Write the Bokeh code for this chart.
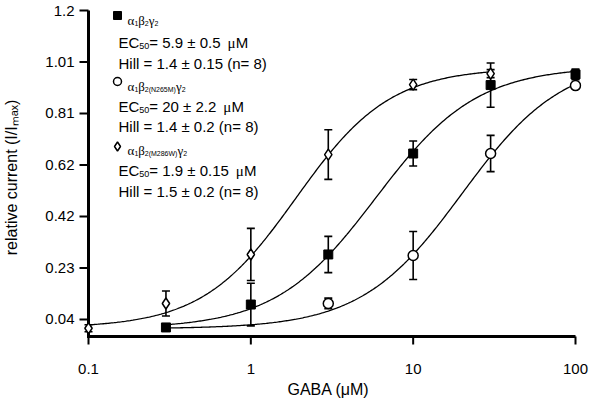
import math
import numpy as np
from bokeh.plotting import figure
from bokeh.models import Label, FixedTicker
from bokeh.embed import file_html
from bokeh.resources import INLINE

# ---------------- data ----------------
x_wt = [0.3, 1, 3, 10, 30, 100]
y_wt = [0.010, 0.096, 0.284, 0.663, 0.920, 0.960]
e_wt = [0.004, 0.080, 0.068, 0.047, 0.083, 0.020]

x_n265m = [3, 10, 30, 100]
y_n265m = [0.100, 0.280, 0.663, 0.918]
e_n265m = [0.020, 0.090, 0.068, 0.010]

x_m286w = [0.1, 0.3, 1, 3, 10, 30]
y_m286w = [0.007, 0.100, 0.284, 0.659, 0.922, 0.963]
e_m286w = [0.013, 0.047, 0.098, 0.093, 0.019, 0.015]

# Hill fit parameters (EC50 and Hill from the legend)
fit_ec50 = [5.9, 20.0, 1.9]
fit_hill = [1.4, 1.4, 1.5]
fit_top = [0.99, 1.02, 0.985]
fit_bottom = [0.005, 0.005, 0.008]
fit_from = [0.3, 0.3, 0.1]
fit_to = [100, 100, 30]

y_ticks = [0.04, 0.2333, 0.4267, 0.62, 0.8133, 1.0067, 1.2]
y_tick_labels = ["0.04", "0.23", "0.42", "0.62", "0.81", "1.01", "1.2"]
x_ticks = [0.1, 1, 10, 100]
x_tick_labels = ["0.1", "1", "10", "100"]

legend_names = [
    [("α", 0), ("1", 1), ("β", 0), ("2", 1), ("γ", 0), ("2", 1)],
    [("α", 0), ("1", 1), ("β", 0), ("2(N265M)", 1), ("γ", 0), ("2", 1)],
    [("α", 0), ("1", 1), ("β", 0), ("2(M286W)", 1), ("γ", 0), ("2", 1)],
]
legend_ec50 = ["5.9 ± 0.5", "20 ± 2.2", "1.9 ± 0.15"]
legend_hill = ["1.4 ± 0.15 (n= 8)", "1.4 ± 0.2 (n= 8)", "1.5 ± 0.2 (n= 8)"]

# ---------------- layout (picture pixels) ----------------
X0, X1 = 0.1, 100          # axis extent
Y0, Y1 = -0.024, 1.2
AX_L, AX_R, AX_T, AX_B = 89, 576, 11, 337      # where the axes lie
FR_L, FR_R, FR_T, FR_B = 76, 582, 6, 350       # plotting frame (larger than the axes)
OFF = 1                                        # canvas origin in the picture
W, H = 594, 402

DEC = (AX_R - AX_L) / (math.log10(X1) - math.log10(X0))
YPX = (AX_B - AX_T) / (Y1 - Y0)

def px2x(Xp):
    return 10 ** (math.log10(X0) + (Xp - AX_L) / DEC)

def px2y(Yp):
    return Y0 + (AX_B - Yp) / YPX

def sx(Xp):
    return Xp - FR_L

def sy(Yp):
    return FR_B - Yp

SANS_W = {'.': .278, ' ': .278, '=': .584, '±': .584, '(': .333, ')': .333, 'E': .667,
          'C': .722, 'H': .722, 'i': .222, 'l': .222, 'n': .556, 'M': .833, 'N': .722,
          'W': .944, 'A': .667, 'X': .667, 'r': .333, 'e': .556, 'a': .556, 't': .278,
          'v': .5, 'c': .5, 'u': .556, 'I': .278, '/': .278}
GREEK_W = {'α': .53, 'β': .5, 'γ': .45, 'μ': .55}

def sans_w(s, size):
    return sum(SANS_W.get(ch, .556) for ch in s) * size

SANS = "Liberation Sans"
SERIF = "Liberation Serif"

p = figure(width=W, height=H, x_axis_type="log",
           x_range=(px2x(FR_L), px2x(FR_R)), y_range=(px2y(FR_B), px2y(FR_T)),
           output_backend="svg", toolbar_location=None,
           min_border_left=FR_L - OFF, min_border_right=W - (FR_R - OFF),
           min_border_top=FR_T - OFF, min_border_bottom=H - (FR_B - OFF))
p.outline_line_color = None
p.xgrid.grid_line_color = None
p.ygrid.grid_line_color = None

p.axis.axis_line_color = None
p.axis.major_tick_line_color = None
p.axis.minor_tick_line_color = None
p.axis.major_tick_in = 0
p.axis.major_tick_out = 0
p.axis.major_label_text_font = SANS
p.axis.major_label_text_font_size = "15px"
p.axis.major_label_text_color = "black"
p.axis.axis_label_text_font = SANS
p.axis.axis_label_text_font_size = "16px"
p.axis.axis_label_text_font_style = "normal"
p.axis.axis_label_text_color = "black"

p.xaxis.ticker = FixedTicker(ticks=x_ticks)
p.xaxis.major_label_overrides = dict(zip(x_ticks, x_tick_labels))
p.xaxis.major_label_standoff = 14
p.xaxis.axis_label = "GABA (μM)"
p.xaxis.axis_label_standoff = 4

p.yaxis.ticker = FixedTicker(ticks=y_ticks)
p.yaxis.major_label_standoff = 1
p.yaxis.major_label_overrides = dict(zip(y_ticks, y_tick_labels))
p.yaxis.axis_label = "relative current (I/Iₘₐₓ)"
p.yaxis.axis_label_standoff = 22

# ---------------- axis rules and ticks (filled bars, 3 px / 2 px) ----------------
p.quad(left=[px2x(AX_L - 1.5), px2x(AX_L - 1.5)], right=[px2x(AX_L + 1.5), X1],
       bottom=[px2y(AX_B + 1.5), px2y(AX_B + 1.5)], top=[Y1, px2y(AX_B - 1.5)],
       fill_color="black", line_color=None)
tk = 1.0
p.quad(left=[px2x(AX_L - 9)] * len(y_ticks), right=[X0] * len(y_ticks),
       bottom=[t - tk / YPX for t in y_ticks], top=[t + tk / YPX for t in y_ticks],
       fill_color="black", line_color=None)
p.quad(left=[t * 10 ** (-tk / DEC) for t in x_ticks], right=[t * 10 ** (tk / DEC) for t in x_ticks],
       bottom=[px2y(AX_B + 8)] * len(x_ticks), top=[Y0] * len(x_ticks),
       fill_color="black", line_color=None)

# ---------------- fitted curves ----------------
for ec, n, top, bot, a, b in zip(fit_ec50, fit_hill, fit_top, fit_bottom, fit_from, fit_to):
    xs = np.logspace(math.log10(a), math.log10(b), 300)
    ys = bot + (top - bot) / (1.0 + (ec / xs) ** n)
    p.line(xs, ys, line_color="black", line_width=1.3)

# ---------------- error bars (stems + caps as glyphs) ----------------
for xv, yv, ev in ((x_wt, y_wt, e_wt), (x_n265m, y_n265m, e_n265m), (x_m286w, y_m286w, e_m286w)):
    lo = [y - e for y, e in zip(yv, ev)]
    hi = [y + e for y, e in zip(yv, ev)]
    p.segment(x0=xv, y0=lo, x1=xv, y1=hi, line_color="black", line_width=1.6)
    p.scatter(xv + xv, lo + hi, marker="dash", size=8, line_color="black", line_width=1.6)

# ---------------- markers ----------------
p.scatter(x_wt, y_wt, marker="square", size=9, fill_color="black", line_color="black")
p.scatter(x_n265m, y_n265m, marker="circle", size=10, fill_color="white", line_color="black", line_width=1.5)
p.scatter(x_m286w, y_m286w, marker="diamond", size=11, fill_color="white", line_color="black", line_width=1.5)

# ---------------- legend (drawn by hand) ----------------
leg_marker_X = 118
leg_marker_Y = [16, 82, 147]
leg_greek_base = [21, 87, 151]
leg_ec_base = [43, 107, 171]
leg_hill_base = [64, 127, 192]

p.scatter([px2x(leg_marker_X)], [px2y(leg_marker_Y[0])], marker="square", size=8,
          fill_color="black", line_color="black")
p.scatter([px2x(leg_marker_X)], [px2y(leg_marker_Y[1])], marker="circle", size=8,
          fill_color="white", line_color="black", line_width=1.5)
p.scatter([px2x(leg_marker_X)], [px2y(leg_marker_Y[2])], marker="diamond", size=9,
          fill_color="white", line_color="black", line_width=1.5)

def put(text, Xp, Yp, font, size):
    p.add_layout(Label(x=sx(Xp), y=sy(Yp), x_units="screen", y_units="screen", text=text,
                       text_font=font, text_font_size=f"{size}px", text_color="black",
                       text_baseline="alphabetic", text_align="left"))

GREEK_SIZE, SUB_SIZE = 13, 7
for row, base in zip(legend_names, leg_greek_base):
    Xp = 128
    for txt, is_sub in row:
        if is_sub:
            put(txt, Xp, base + 2.5, SANS, SUB_SIZE)
            Xp += sans_w(txt, SUB_SIZE)
        else:
            put(txt, Xp, base, SERIF, GREEK_SIZE)
            Xp += GREEK_W[txt] * GREEK_SIZE

TXT = 15
for ec, base in zip(legend_ec50, leg_ec_base):
    Xp = 119
    put("EC", Xp, base, SANS, TXT); Xp += sans_w("EC", TXT)
    put("50", Xp, base + 3, SANS, 9); Xp += sans_w("50", 9)
    rest = " = " + ec + " "
    put(rest, Xp, base, SANS, TXT); Xp += sans_w(rest, TXT) - 2
    put("μ", Xp, base, SERIF, TXT); Xp += GREEK_W["μ"] * TXT
    put("M", Xp, base, SANS, TXT)

for hl, base in zip(legend_hill, leg_hill_base):
    put("Hill = " + hl, 119, base, SANS, TXT)

open("out.html", "w").write(file_html(p, INLINE))
